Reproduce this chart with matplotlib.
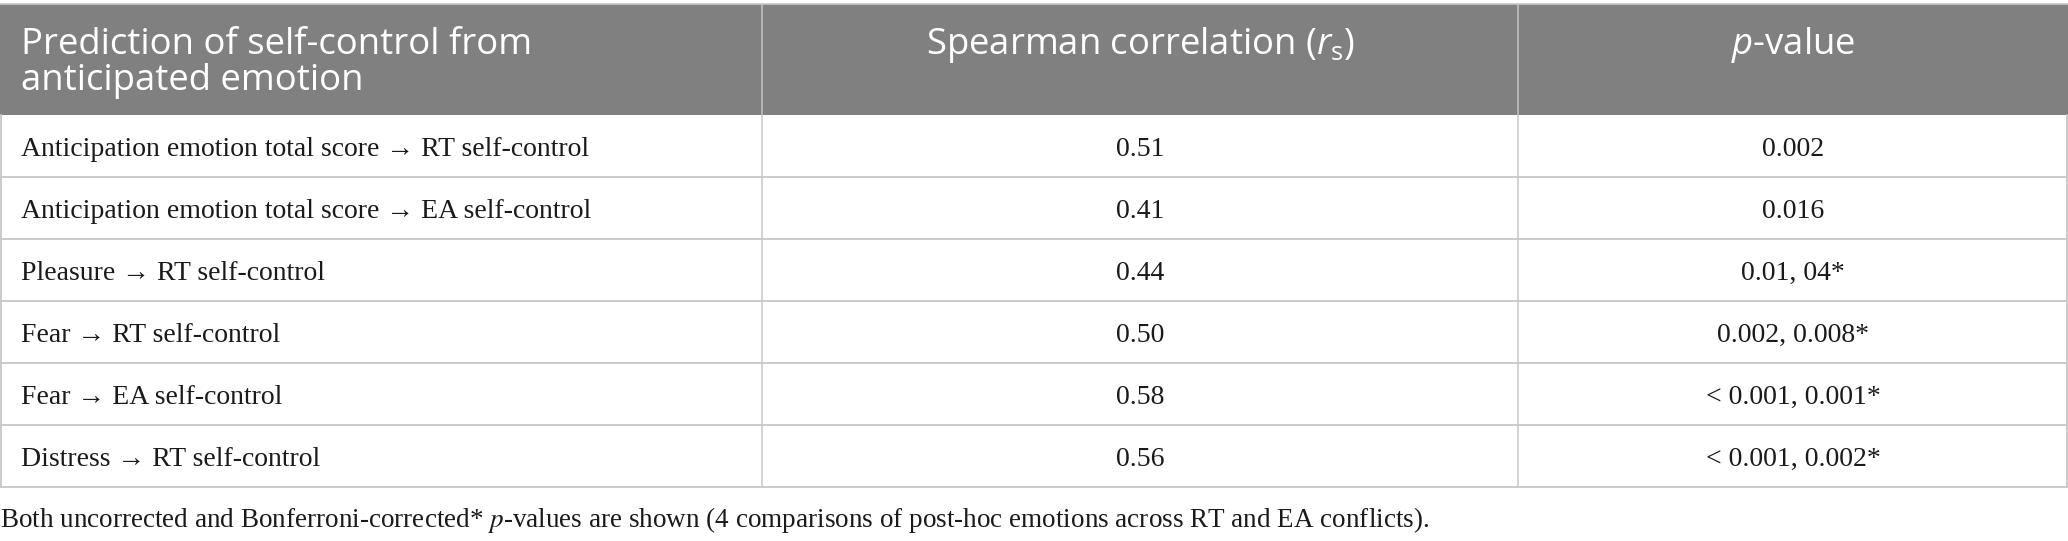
import matplotlib
matplotlib.use("Agg")
import matplotlib.pyplot as plt
from matplotlib.patches import Rectangle

# ---- data ----
headers = ["Prediction of self-control from\nanticipated emotion",
           "Spearman correlation ($r_{\\mathregular{s}}$)",
           "$p$-value"]
predictors = [
    "Anticipation emotion total score \u2192 RT self-control",
    "Anticipation emotion total score \u2192 EA self-control",
    "Pleasure \u2192 RT self-control",
    "Fear \u2192 RT self-control",
    "Fear \u2192 EA self-control",
    "Distress \u2192 RT self-control",
]
spearman_rs = [0.51, 0.41, 0.44, 0.50, 0.58, 0.56]
p_values = ["0.002", "0.016", "0.01, 04*", "0.002, 0.008*",
            "< 0.001, 0.001*", "< 0.001, 0.002*"]
footnote = ("Both uncorrected and Bonferroni-corrected* $p$-values are shown "
            "(4 comparisons of post-hoc emotions across RT and EA conflicts).")

# ---- layout (pixel coordinates) ----
W, H = 2068, 541
col_edges = [0, 762, 1518, W]
top = 4
header_bottom = 115
row_h = 62.0
header_bg = "#808080"
grid_c = "#c6c6c6"
text_c = "#1a1a1a"

plt.rcParams["mathtext.fontset"] = "custom"
plt.rcParams["mathtext.rm"] = "Open Sans"
plt.rcParams["mathtext.it"] = "Open Sans:italic"

fig = plt.figure(figsize=(W / 100, H / 100), dpi=100)
ax = fig.add_axes([0, 0, 1, 1])
ax.set_xlim(0, W)
ax.set_ylim(H, 0)
ax.axis("off")

# header background
ax.add_patch(Rectangle((0, top), W, header_bottom - top, facecolor=header_bg,
                       edgecolor="none", zorder=1))
ax.plot([0, W], [top, top], color=grid_c, lw=1.2, zorder=2)

head_font = dict(family=["Open Sans", "DejaVu Sans"], size=26.3, color="white")
base1, line_gap = 54, 36
for k, line in enumerate(headers[0].split("\n")):
    ax.text(col_edges[0] + 21, base1 + k * line_gap, line, ha="left",
            va="baseline", zorder=3, **head_font)
for j in (1, 2):
    cx = (col_edges[j] + col_edges[j + 1]) / 2
    ax.text(cx, base1, headers[j], ha="center", va="baseline", zorder=3, **head_font)

n = len(predictors)
bottom = header_bottom + n * row_h
body_font = dict(family=["Liberation Serif", "DejaVu Serif"], size=20, color=text_c)

for i, (pred, r, p) in enumerate(zip(predictors, spearman_rs, p_values)):
    y0 = header_bottom + i * row_h
    yc = y0 + row_h / 2
    ax.text(col_edges[0] + 21, yc, pred, ha="left", va="center_baseline", **body_font)
    ax.text((col_edges[1] + col_edges[2]) / 2, yc, f"{r:.2f}", ha="center",
            va="center_baseline", **body_font)
    ax.text((col_edges[2] + col_edges[3]) / 2, yc, p, ha="center",
            va="center_baseline", **body_font)
    ax.plot([0, W], [y0 + row_h, y0 + row_h], color=grid_c, lw=1.3, zorder=2)

# vertical lines
for x in col_edges[1:-1]:
    ax.plot([x, x], [top, bottom], color=grid_c, lw=1.1, zorder=2)
ax.plot([0.7, 0.7], [header_bottom, bottom], color=grid_c, lw=1.3, zorder=2)
ax.plot([W - 0.7, W - 0.7], [header_bottom, bottom], color=grid_c, lw=1.3, zorder=2)

ax.text(0, 516, footnote, ha="left", va="center_baseline",
        family=["Liberation Serif", "DejaVu Serif"], size=19.5, color=text_c,
        math_fontfamily="stix")

fig.savefig("out.png", dpi=100, facecolor="white")
